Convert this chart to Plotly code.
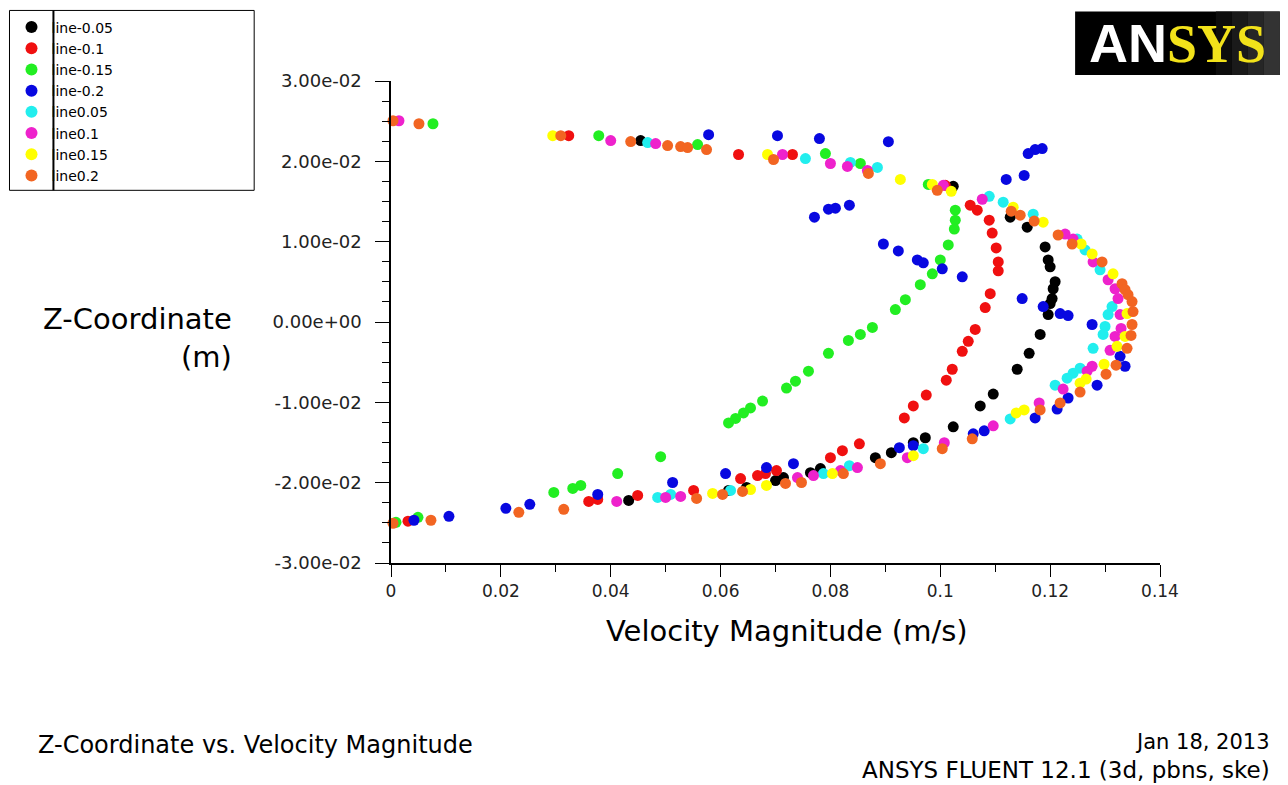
import plotly.graph_objects as go

# ---------------- data (Velocity Magnitude [m/s], Z-Coordinate [m]) ----------------
series_names = ["line-0.05", "line-0.1", "line-0.15", "line-0.2",
                "line0.05", "line0.1", "line0.15", "line0.2"]
series_colors = ["#000000", "#f01010", "#22ee22", "#0808e0",
                 "#22eeee", "#ee22cc", "#ffff00", "#f26522"]

v_m005 = [0.04545, 0.10236, 0.11273, 0.11582, 0.11909, 0.11964, 0.12000, 0.12091, 0.12055, 0.12036,
          0.12000, 0.11964, 0.11818, 0.11618, 0.11400, 0.10964, 0.10727, 0.10236, 0.09727, 0.09509,
          0.09109, 0.08818, 0.07818, 0.07636, 0.07145, 0.07000, 0.06473, 0.06145, 0.04327]
z_m005 = [0.02258, 0.01689, 0.01305, 0.01181, 0.00934, 0.00773, 0.00687, 0.00501, 0.00414, 0.00291,
          0.00229, 0.00093, -0.00155, -0.00390, -0.00588, -0.00897, -0.01045, -0.01305, -0.01441, -0.01503,
          -0.01627, -0.01689, -0.01825, -0.01875, -0.01937, -0.01974, -0.02060, -0.02097, -0.02221]

v_m01 = [0.03236, 0.06327, 0.07309, 0.10091, 0.10545, 0.10673, 0.10891, 0.10945, 0.11018, 0.11055,
         0.11055, 0.10909, 0.10818, 0.10636, 0.10509, 0.10400, 0.10218, 0.10109, 0.09745, 0.09509,
         0.09345, 0.08527, 0.08218, 0.08000, 0.07018, 0.06818, 0.06673, 0.06364, 0.05509, 0.04491,
         0.03764, 0.03600, 0.00309]
z_m01 = [0.02320, 0.02085, 0.02085, 0.01701, 0.01454, 0.01392, 0.01268, 0.01107, 0.00922, 0.00748,
         0.00637, 0.00353, 0.00179, -0.00093, -0.00241, -0.00365, -0.00588, -0.00724, -0.00909, -0.01045,
         -0.01194, -0.01516, -0.01602, -0.01689, -0.01850, -0.01887, -0.01912, -0.01949, -0.02097, -0.02159,
         -0.02208, -0.02233, -0.02480]

v_m015 = [0.00764, 0.03782, 0.05582, 0.07909, 0.08545, 0.09782, 0.10273, 0.10273, 0.10255, 0.10145,
          0.10000, 0.09855, 0.09636, 0.09364, 0.09182, 0.08764, 0.08545, 0.08327, 0.07964, 0.07600,
          0.07364, 0.07200, 0.06764, 0.06545, 0.06418, 0.06273, 0.06145, 0.04909, 0.04127, 0.03455,
          0.03309, 0.02964, 0.00491, 0.00091]
z_m015 = [0.02468, 0.02320, 0.02208, 0.02097, 0.01973, 0.01713, 0.01392, 0.01268, 0.01157, 0.00959,
          0.00773, 0.00600, 0.00464, 0.00278, 0.00155, -0.00068, -0.00155, -0.00229, -0.00390, -0.00612,
          -0.00736, -0.00823, -0.00984, -0.01070, -0.01132, -0.01200, -0.01256, -0.01676, -0.01887, -0.02035,
          -0.02072, -0.02122, -0.02431, -0.02493]

v_m02 = [0.05782, 0.07036, 0.07800, 0.09055, 0.11855, 0.11727, 0.11600, 0.11527, 0.11200, 0.08345,
         0.08091, 0.07964, 0.07709, 0.08964, 0.09236, 0.09582, 0.09691, 0.10036, 0.10400, 0.11491,
         0.11873, 0.12182, 0.12327, 0.12764, 0.13273, 0.13364, 0.12855, 0.12327, 0.12127, 0.11727,
         0.10800, 0.10600, 0.09509, 0.09255, 0.07327, 0.06836, 0.06091, 0.05127, 0.03764, 0.02527,
         0.02091, 0.01055, 0.00418]
z_m02 = [0.02332, 0.02320, 0.02283, 0.02245, 0.02159, 0.02147, 0.02097, 0.01825, 0.01775, 0.01454,
         0.01417, 0.01404, 0.01305, 0.00971, 0.00885, 0.00773, 0.00736, 0.00662, 0.00563, 0.00291,
         0.00192, 0.00105, 0.00080, -0.00031, -0.00427, -0.00551, -0.00786, -0.00946, -0.01083, -0.01194,
         -0.01355, -0.01392, -0.01540, -0.01565, -0.01763, -0.01812, -0.01887, -0.01998, -0.02147, -0.02270,
         -0.02320, -0.02419, -0.02468]

v_p005 = [0.04673, 0.07545, 0.08364, 0.08855, 0.10891, 0.11145, 0.11691, 0.12491, 0.12636, 0.12909,
          0.13127, 0.13055, 0.13000, 0.12964, 0.12782, 0.12545, 0.12418, 0.12309, 0.12091, 0.11273,
          0.09691, 0.08345, 0.07873, 0.06182, 0.05091, 0.04855]
z_p005 = [0.02233, 0.02035, 0.01986, 0.01924, 0.01565, 0.01491, 0.01342, 0.01033, 0.00897, 0.00650,
          0.00192, 0.00093, -0.00056, -0.00155, -0.00328, -0.00575, -0.00637, -0.00699, -0.00786, -0.01206,
          -0.01577, -0.01788, -0.01887, -0.02097, -0.02147, -0.02184]

v_p01 = [0.00145, 0.04000, 0.04818, 0.07127, 0.08000, 0.08309, 0.08673, 0.10055, 0.10764, 0.12273,
         0.12418, 0.12782, 0.13055, 0.13182, 0.13236, 0.13273, 0.13291, 0.13182, 0.13091, 0.12764,
         0.12673, 0.12236, 0.11800, 0.10964, 0.10073, 0.09400, 0.08491, 0.08182, 0.07691, 0.07400,
         0.05273, 0.05000, 0.04109]
z_p01 = [0.02505, 0.02258, 0.02221, 0.02085, 0.01973, 0.01936, 0.01887, 0.01701, 0.01528, 0.01095,
         0.01033, 0.00748, 0.00526, 0.00414, 0.00291, 0.00093, -0.00080, -0.00179, -0.00353, -0.00551,
         -0.00612, -0.00835, -0.01008, -0.01293, -0.01503, -0.01689, -0.01812, -0.01850, -0.01912, -0.01936,
         -0.02171, -0.02184, -0.02233]

v_p015 = [0.02945, 0.06855, 0.09273, 0.09855, 0.10200, 0.11327, 0.11873, 0.12564, 0.12764, 0.13145,
          0.13400, 0.13364, 0.13218, 0.12982, 0.12655, 0.12545, 0.11527, 0.11382, 0.09509, 0.08036,
          0.06836, 0.06545, 0.05855]
z_p015 = [0.02320, 0.02085, 0.01775, 0.01713, 0.01627, 0.01429, 0.01243, 0.00971, 0.00847, 0.00600,
          0.00105, -0.00179, -0.00303, -0.00526, -0.00711, -0.00761, -0.01095, -0.01132, -0.01664, -0.01887,
          -0.02035, -0.02085, -0.02134]

v_p02 = [0.00036, 0.00509, 0.03091, 0.04364, 0.05036, 0.05273, 0.05400, 0.05745, 0.06964, 0.08691,
         0.09945, 0.11291, 0.11455, 0.11709, 0.12145, 0.12400, 0.12945, 0.13309, 0.13364, 0.13418,
         0.13491, 0.13509, 0.13491, 0.13473, 0.13400, 0.13200, 0.13018, 0.12545, 0.12182, 0.11818,
         0.10582, 0.10036, 0.08909, 0.08236, 0.07473, 0.07182, 0.06400, 0.06036, 0.05564, 0.03145,
         0.02327, 0.00727, 0.00036]
z_p02 = [0.02505, 0.02468, 0.02320, 0.02246, 0.02196, 0.02184, 0.02171, 0.02147, 0.02023, 0.01850,
         0.01639, 0.01379, 0.01330, 0.01256, 0.01083, 0.00971, 0.00748, 0.00476, 0.00402, 0.00340,
         0.00254, 0.00130, -0.00031, -0.00167, -0.00328, -0.00538, -0.00650, -0.00872, -0.01008, -0.01095,
         -0.01454, -0.01577, -0.01763, -0.01887, -0.01998, -0.02010, -0.02109, -0.02147, -0.02196, -0.02332,
         -0.02369, -0.02468, -0.02505]

series_v = [v_m005, v_m01, v_m015, v_m02, v_p005, v_p01, v_p015, v_p02]
series_z = [z_m005, z_m01, z_m015, z_m02, z_p005, z_p01, z_p015, z_p02]

y_tickvals = [-0.03, -0.02, -0.01, 0.0, 0.01, 0.02, 0.03]
y_ticktext = ["-3.00e-02", "-2.00e-02", "-1.00e-02", "0.00e+00", "1.00e-02", "2.00e-02", "3.00e-02"]
x_tickvals = [0, 0.02, 0.04, 0.06, 0.08, 0.1, 0.12, 0.14]
x_ticktext = ["0", "0.02", "0.04", "0.06", "0.08", "0.1", "0.12", "0.14"]

# ---------------- layout geometry (pixels) ----------------
W, H = 1288, 785
L, R, T, B = 390, 1160, 78, 563
FONT = "DejaVu Sans"
LEG_TOP, LEG_BOT, LEG_LEFT, LEG_RIGHT, LEG_DIV = 7, 188, 8, 253, 52


def px(xp):
    return (xp - L) / (R - L)


def py(yp):
    return (B - yp) / (B - T)


fig = go.Figure()
for name, col, vs, zs in zip(series_names, series_colors, series_v, series_z):
    fig.add_trace(go.Scatter(x=vs, y=zs, mode="markers", name=name,
                             marker=dict(color=col, size=11, line=dict(width=0)),
                             cliponaxis=False))

fig.update_layout(
    width=W, height=H,
    margin=dict(l=L, r=W - R, t=T, b=H - B),
    paper_bgcolor="white", plot_bgcolor="white",
    font=dict(family=FONT, color="black"),
    showlegend=True,
    legend=dict(x=px(LEG_LEFT + 2), y=py(LEG_TOP + 1), xanchor="left", yanchor="top",
                bgcolor="rgba(0,0,0,0)", borderwidth=0,
                font=dict(family=FONT, size=14, color="black"),
                tracegroupgap=0, itemsizing="constant"),
    xaxis=dict(range=[0, 0.14], showgrid=False, zeroline=False,
               showline=True, linecolor="black", linewidth=1.5,
               tickmode="array", tickvals=x_tickvals, ticktext=x_ticktext,
               ticks="outside", ticklen=12, tickwidth=1, tickcolor="black",
               tickfont=dict(family=FONT, size=17, color="#222"),
               minor=dict(dtick=0.01, tick0=0, ticks="outside", ticklen=7,
                          tickcolor="black", tickwidth=1, showgrid=False)),
    yaxis=dict(range=[-0.03, 0.03], showgrid=False, zeroline=False,
               showline=True, linecolor="black", linewidth=1.5,
               tickmode="array", tickvals=y_tickvals, ticktext=y_ticktext,
               ticks="outside", ticklen=14, tickwidth=1, tickcolor="black",
               ticklabelstandoff=10,
               tickfont=dict(family=FONT, size=18, color="#222"),
               minor=dict(dtick=0.0025, tick0=-0.03, ticks="outside", ticklen=7,
                          tickcolor="black", tickwidth=1, showgrid=False)),
)

annotations = [
    dict(text="Velocity Magnitude (m/s)", x=px(787), y=py(631), xref="paper", yref="paper",
         xanchor="center", yanchor="middle", showarrow=False,
         font=dict(family=FONT, size=29, color="black")),
    dict(text="Z-Coordinate<br>(m)", x=px(233), y=py(337), xref="paper", yref="paper",
         xanchor="right", yanchor="middle", align="right", showarrow=False,
         font=dict(family=FONT, size=29, color="black")),
    dict(text="Z-Coordinate vs. Velocity Magnitude", x=px(35), y=py(746), xref="paper", yref="paper",
         xanchor="left", yanchor="middle", showarrow=False,
         font=dict(family=FONT, size=24, color="black")),
    dict(text="Jan 18, 2013", x=px(1272), y=py(743), xref="paper", yref="paper",
         xanchor="right", yanchor="middle", showarrow=False,
         font=dict(family=FONT, size=21, color="black")),
    dict(text="ANSYS FLUENT 12.1 (3d, pbns, ske)", x=px(1272), y=py(771), xref="paper", yref="paper",
         xanchor="right", yanchor="middle", showarrow=False,
         font=dict(family=FONT, size=23, color="black")),
    dict(text="<span style='color:white;font-family:Liberation Sans'>AN</span>"
              "<span style='color:#f2e21a;font-family:Liberation Serif'>SYS</span>",
         x=px(1178), y=py(40), xref="paper", yref="paper",
         xanchor="center", yanchor="middle", showarrow=False,
         font=dict(family="Liberation Sans", size=54, color="white", weight="bold")),
]
fig.update_layout(annotations=annotations)

shapes = [
    # legend frame and divider
    dict(type="rect", xref="paper", yref="paper", x0=px(LEG_LEFT), x1=px(LEG_RIGHT),
         y0=py(LEG_BOT), y1=py(LEG_TOP), fillcolor="white", line=dict(color="black", width=1),
         layer="below"),
    dict(type="line", xref="paper", yref="paper", x0=px(LEG_DIV), x1=px(LEG_DIV),
         y0=py(LEG_BOT), y1=py(LEG_TOP), line=dict(color="black", width=2), layer="above"),
    # logo background
    dict(type="rect", xref="paper", yref="paper", x0=px(1075), x1=px(1280), y0=py(72), y1=py(8),
         fillcolor="black", line=dict(width=0), layer="below"),
]
for i, g in enumerate(["#0d0d0d", "#1a1a1a", "#262626", "#333333"]):
    shapes.append(dict(type="rect", xref="paper", yref="paper",
                       x0=px(1216 + i * 16), x1=px(1232 + i * 16), y0=py(72), y1=py(8),
                       fillcolor=g, line=dict(width=0), layer="below"))
fig.update_layout(shapes=shapes)

fig.write_html("out.html")
